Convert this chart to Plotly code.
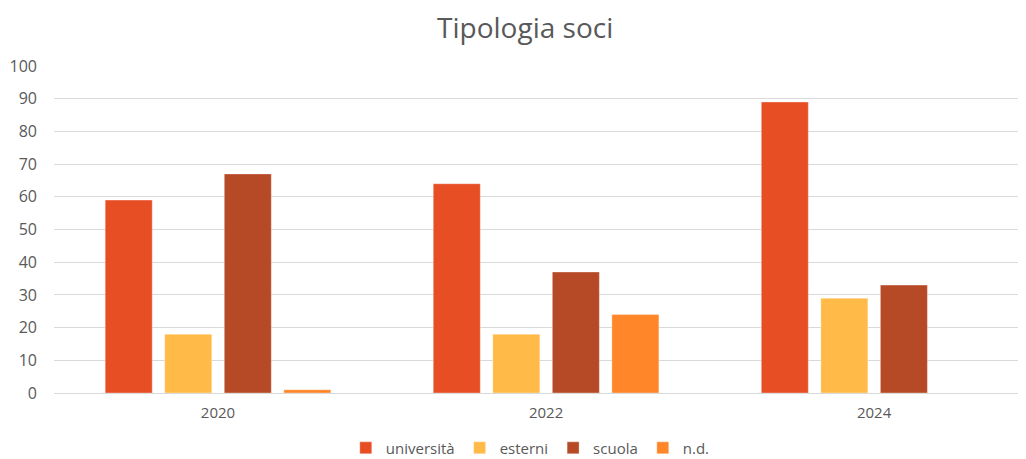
import plotly.graph_objects as go

years = ["2020", "2022", "2024"]
universita = [59, 64, 89]
esterni = [18, 18, 29]
scuola = [67, 37, 33]
nd = [1, 24, None]

series_names = ["università", "esterni", "scuola", "n.d."]
series_values = [universita, esterni, scuola, nd]
colors = ["#E84E24", "#FFBA47", "#B64A26", "#FF8629"]

xpos = list(range(len(years)))

fig = go.Figure()
for name, vals, col in zip(series_names, series_values, colors):
    fig.add_trace(go.Bar(
        x=xpos, y=vals, name=name,
        marker=dict(color=col, line=dict(color="rgba(255,255,255,0.35)", width=1)),
    ))

font_family = "Open Sans, DejaVu Sans, sans-serif"
fig.update_layout(
    width=1018, height=451,
    margin=dict(l=46, r=0, t=58, b=66, autoexpand=False),
    paper_bgcolor="white", plot_bgcolor="white",
    barmode="group", bargap=0.274, bargroupgap=0.21,
    title=dict(text="Tipologia soci", x=0.508, xanchor="center", y=0.955, yanchor="middle",
               font=dict(family=font_family, size=28, color="#595959")),
    font=dict(family=font_family, color="#595959", size=15),
    showlegend=True,
    legend=dict(orientation="h", x=0.49, xanchor="center", y=-0.118, yanchor="top",
                font=dict(size=15, color="#595959"), itemwidth=30, traceorder="normal",
                tracegroupgap=0),
    xaxis=dict(range=[-0.5, 2.463], tickmode="array", tickvals=xpos, ticktext=years,
               showgrid=False, zeroline=False, showline=False, ticks="", automargin=False,
               ticklabelstandoff=9,
               tickfont=dict(size=15, color="#595959")),
    yaxis=dict(range=[0, 100], dtick=10, showgrid=True, gridcolor="#D9D9D9", gridwidth=1,
               zeroline=True, zerolinecolor="#D9D9D9", zerolinewidth=1,
               showline=False, ticks="", ticklabelstandoff=16, automargin=False,
               tickfont=dict(size=16, color="#595959")),
)

fig.write_html("out.html")
